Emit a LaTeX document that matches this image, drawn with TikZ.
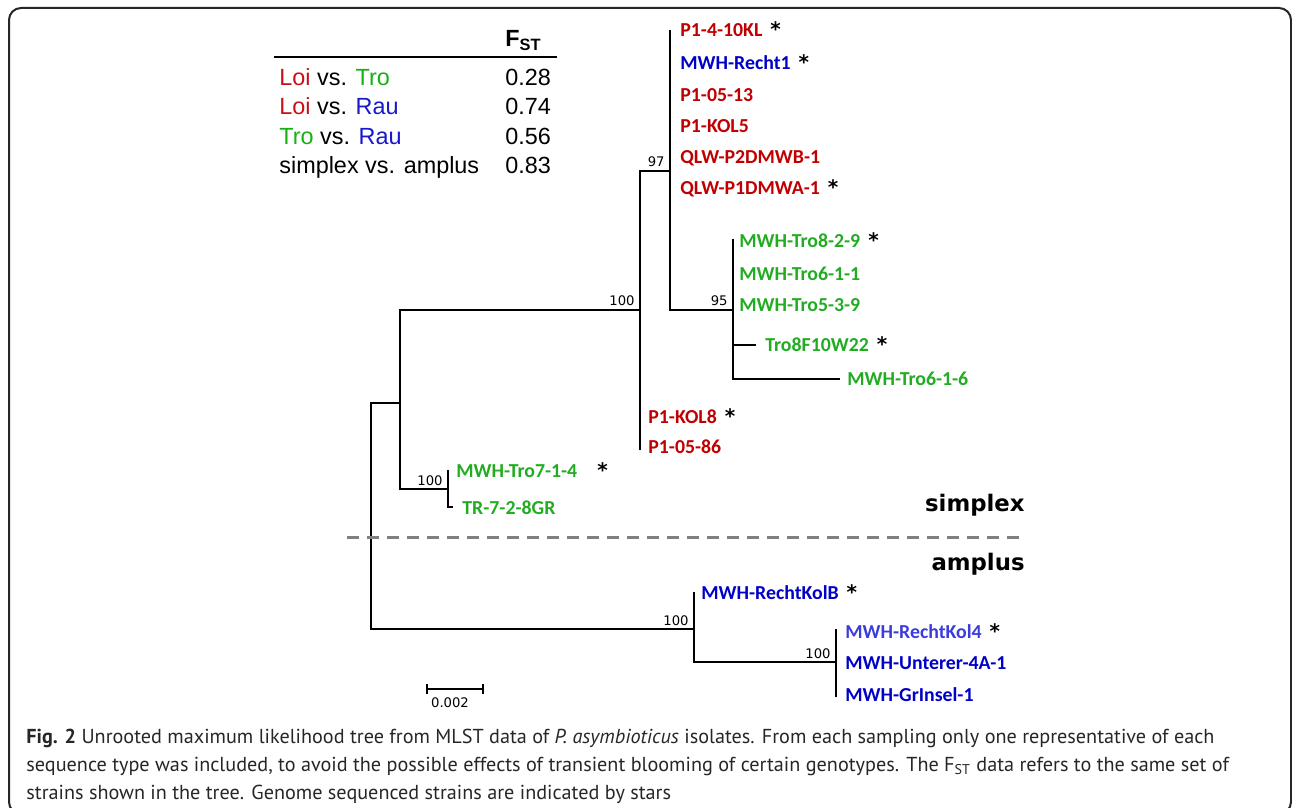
\documentclass[tikz,border=0pt]{standalone}
\usepackage{fontspec}
\setmainfont{PT Sans}
\newfontfamily\leaffont{Carlito}
\newfontfamily\tabfont{Liberation Sans}
\newfontfamily\bootfont{DejaVu Sans}
\usetikzlibrary{positioning}
\definecolor{loired}{RGB}{192,0,0}
\definecolor{trogreen}{RGB}{34,172,34}
\definecolor{raublue}{RGB}{0,0,200}
\definecolor{raublue2}{RGB}{60,60,220}
\definecolor{tabred}{RGB}{200,16,24}
\definecolor{tabgreen}{RGB}{20,176,20}
\definecolor{tabblue}{RGB}{24,24,204}
\tikzset{
  branch/.style={line width=0.8pt},
  leaf/.style={font=\leaffont\bfseries\fontsize{9.9}{12}\selectfont, inner sep=0pt, anchor=base west},
  leafR/.style={leaf, text=loired},
  leafG/.style={leaf, text=trogreen},
  leafB/.style={leaf, text=raublue},
  gsmark/.style={font=\bootfont\bfseries\fontsize{10}{12}\selectfont, inner sep=0pt},
  boot/.style={font=\bootfont\fontsize{6.6}{8}\selectfont, inner sep=0pt, anchor=base east, xshift=-2.5pt, yshift=2pt},
  tab/.style={font=\tabfont\fontsize{11.7}{14}\selectfont, inner sep=0pt, anchor=base west},
  clade/.style={font=\bootfont\bfseries\fontsize{11.4}{14}\selectfont, inner sep=0pt, anchor=base east},
  capt/.style={font=\fontsize{10.1}{12}\selectfont, inner sep=0pt, anchor=base west, text=black!85},
  divider/.style={line width=1.5pt, gray, dash pattern=on 6pt off 4pt},
}

\begin{document}
\begin{tikzpicture}[x=0.5pt, y=-0.5pt]
    \clip (0,0) rectangle (1292,808);
    % Frame
    \draw[line width=1pt, black!85, rounded corners=6pt] (9,8) rectangle (1291,814);

    % F_ST table
    \coordinate (tl) at (274,57);
    \coordinate (tr) at (557,57);
    \draw[line width=1pt] (tl) -- (tr);
    \node[tab] (fst) at (505,47) {\textbf{F\textsubscript{ST}}};
    \node[tab] (r1) at (279,86) {\textcolor{tabred}{Loi} vs. \textcolor{tabgreen}{Tro}};
    \node[tab] (r2) at (279,115) {\textcolor{tabred}{Loi} vs. \textcolor{tabblue}{Rau}};
    \node[tab] (r3) at (279,145) {\textcolor{tabgreen}{Tro} vs. \textcolor{tabblue}{Rau}};
    \node[tab] (r4) at (279,174) {simplex vs. amplus};
    \node[tab] (v1) at (505,86) {0.28};
    \node[tab] (v2) at (505,115) {0.74};
    \node[tab] (v3) at (505,145) {0.56};
    \node[tab] (v4) at (505,174) {0.83};

    % Internal nodes
    \coordinate (root) at (371,516);
    \coordinate (nSx) at (400,403);
    \coordinate (n100) at (640,310);
    \coordinate (n97) at (670,171);
    \coordinate (n95) at (733,310);
    \coordinate (nTr) at (448,489);
    \coordinate (nAm) at (694,629);
    \coordinate (nRK) at (836,662);
    % Tips
    \coordinate (t410) at (670,30);
    \coordinate (t86) at (640,450);
    \coordinate (t829) at (733,239);
    \coordinate (tW22) at (756,345);
    \coordinate (t616) at (840,379);
    \coordinate (t714) at (448,470);
    \coordinate (t728) at (453,507);
    \coordinate (tKB) at (694,592);
    \coordinate (tK4) at (836,629);
    \coordinate (tGI) at (836,697);

    % Branches
    \draw[branch] (nSx) -| (root) |- (nAm);
    \draw[branch] (n100) -| (nSx) |- (nTr);
    \draw[branch] (n97) -| (n100) -- (t86);
    \draw[branch] (t410) |- (n95);
    \draw[branch] (t829) |- (t616);
    \draw[branch] (tW22) -- (tW22 -| n95);
    \draw[branch] (t714) |- (t728);
    \draw[branch] (tKB) |- (nRK);
    \draw[branch] (tK4) -- (tGI);

    % Bootstrap values
    \node[boot] (b97) at (n97) {97};
    \node[boot] (b100) at (n100) {100};
    \node[boot] (b95) at (n95) {95};
    \node[boot] (bTr) at (nTr) {100};
    \node[boot] (bAm) at (nAm) {100};
    \node[boot] (bRK) at (nRK) {100};

    % Leaves
    \node[leafR] (l1) at (680,37) {P1-4-10KL};
    \node[leafB] (l2) at (680,70) {MWH-Recht1};
    \node[leafR] (l3) at (680,102) {P1-05-13};
    \node[leafR] (l4) at (680,133) {P1-KOL5};
    \node[leafR] (l5) at (680,164) {QLW-P2DMWB-1};
    \node[leafR] (l6) at (680,195) {QLW-P1DMWA-1};
    \node[leafG] (l7) at (739,248) {MWH-Tro8-2-9};
    \node[leafG] (l8) at (739,280) {MWH-Tro6-1-1};
    \node[leafG] (l9) at (739,311) {MWH-Tro5-3-9};
    \node[leafG] (l10) at (765,351) {Tro8F10W22};
    \node[leafG] (l11) at (847,385) {MWH-Tro6-1-6};
    \node[leafR] (l12) at (648,423) {P1-KOL8};
    \node[leafR] (l13) at (648,453) {P1-05-86};
    \node[leafG] (l14) at (456,477) {MWH-Tro7-1-4};
    \node[leafG] (l15) at (462,514) {TR-7-2-8GR};
    \node[leafB] (l16) at (701,599) {MWH-RechtKolB};
    \node[leaf, text=raublue2] (l17) at (845,638) {MWH-RechtKol4};
    \node[leafB] (l18) at (845,669) {MWH-Unterer-4A-1};
    \node[leafB] (l19) at (845,701) {MWH-GrInsel-1};

    % Genome sequenced
    \node[gsmark, base right=3.6pt of l1] (s1) {*};
    \node[gsmark, base right=3.6pt of l2] (s2) {*};
    \node[gsmark, base right=3.6pt of l6] (s6) {*};
    \node[gsmark, base right=3.6pt of l7] (s7) {*};
    \node[gsmark, base right=3.6pt of l10] (s10) {*};
    \node[gsmark, base right=3.6pt of l12] (s12) {*};
    \node[gsmark, base right=9.6pt of l14] (s14) {*};
    \node[gsmark, base right=3.6pt of l16] (s16) {*};
    \node[gsmark, base right=3.6pt of l17] (s17) {*};

    % simplex / amplus
    \coordinate (dl) at (347,537);
    \coordinate (dr) at (1025,537);
    \draw[divider] (dl) -- (dr);
    \node[clade] (cs) at (1025,511) {simplex};
    \node[clade] (ca) at (1025,570) {amplus};

    % Scale bar
    \coordinate (sb1) at (427,689);
    \coordinate (sb2) at (483,689);
    \draw[branch] (sb1) -- (sb2);
    \draw[branch] (sb1) ++(0,-5) -- ++(0,10);
    \draw[branch] (sb2) ++(0,-5) -- ++(0,10);
    \node[boot, anchor=base, xshift=0pt, yshift=0pt] (sbl) at (455,711) {0.002};

    % Caption
    \node[capt] (c1) at (26,743) {\textbf{Fig. 2} Unrooted maximum likelihood tree from MLST data of \textit{P. asymbioticus} isolates. From each sampling only one representative of each};
    \node[capt] (c2) at (26,771) {sequence type was included, to avoid the possible effects of transient blooming of certain genotypes. The F\textsubscript{ST} data refers to the same set of};
    \node[capt] (c3) at (26,799) {strains shown in the tree. Genome sequenced strains are indicated by stars};
\end{tikzpicture}
\end{document}
